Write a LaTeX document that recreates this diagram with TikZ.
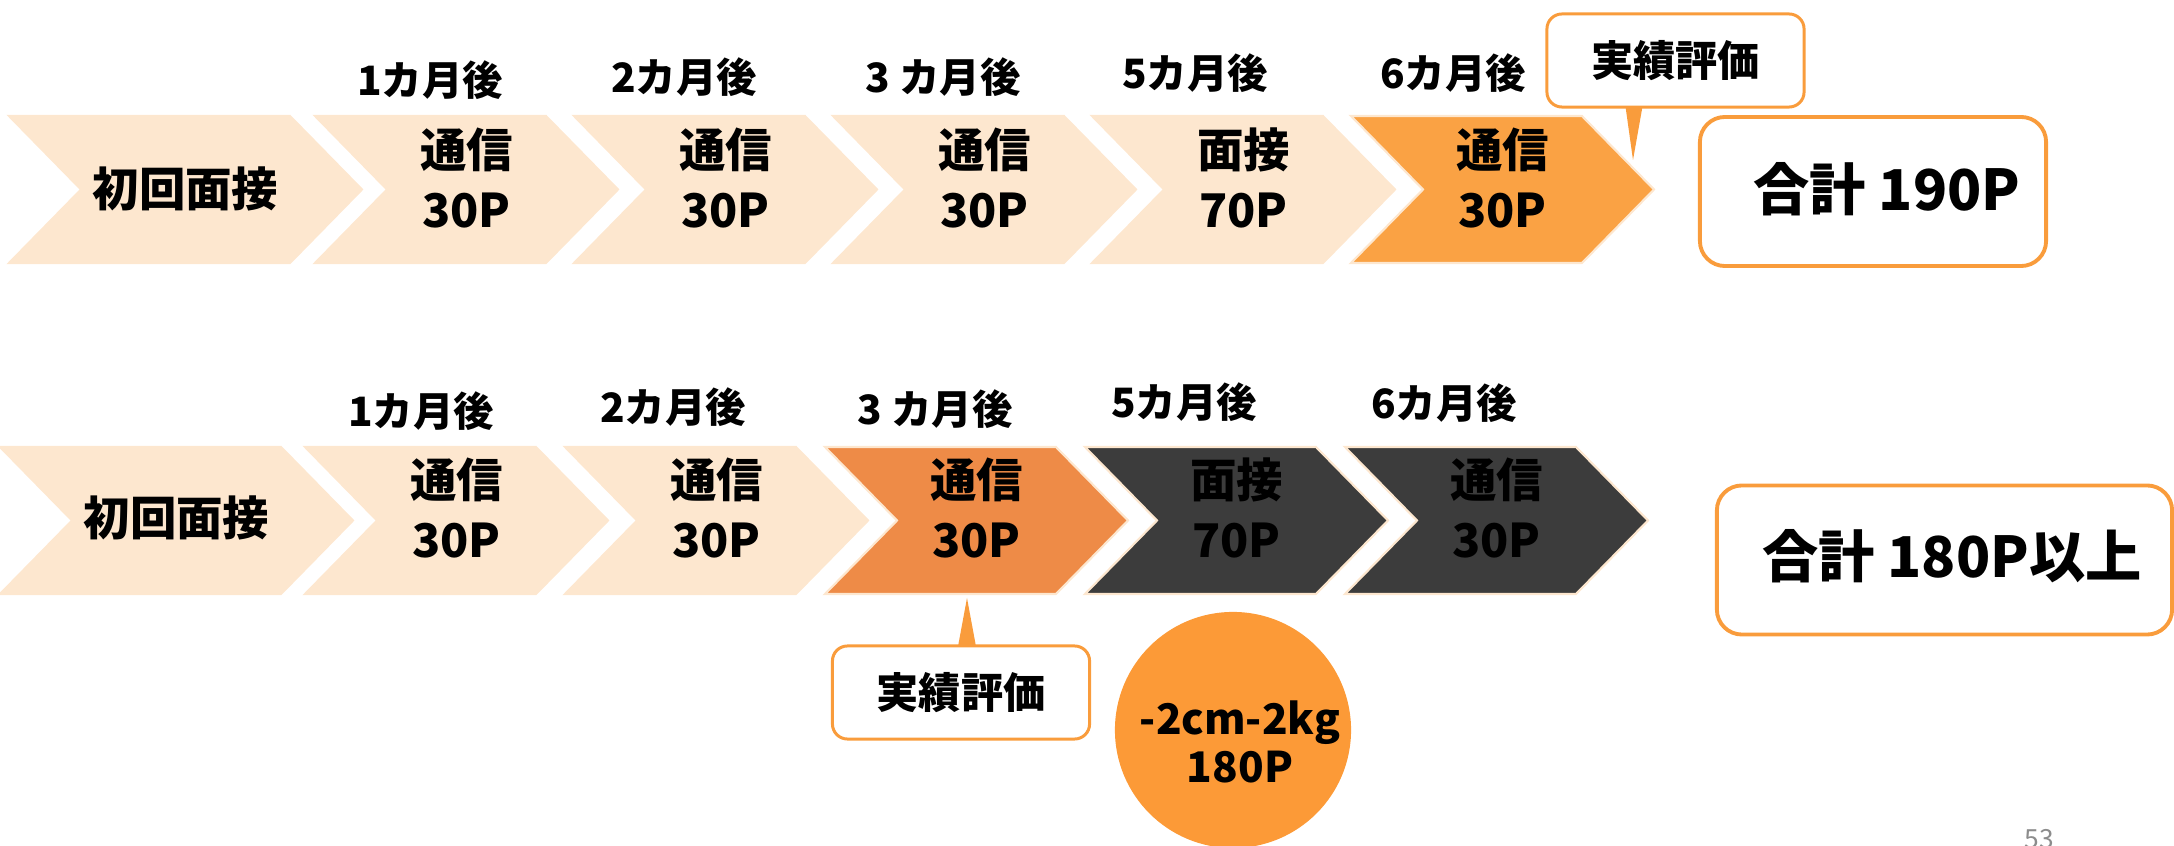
\documentclass[tikz,border=0pt]{standalone}
\usepackage{fontspec}
\setmainfont{Noto Sans CJK JP}
\usetikzlibrary{calc}
\definecolor{peach}{HTML}{FDE7CF}
\definecolor{orA}{HTML}{FAA244}
\definecolor{orB}{HTML}{EE8B47}
\definecolor{dk}{HTML}{3C3C3C}
\definecolor{orC}{HTML}{FC9A37}
\definecolor{orL}{HTML}{F99C3C}
\newcommand{\chevron}[4]{%
  \filldraw[fill=#4, draw=peach, line width=0.6pt] (#1,#2) -- ++(#3,0) -- ++(72,73.5) -- ++(-72,73.5) -- ++(-#3,0) -- ++(72,-73.5) -- cycle;}
\begin{document}
\begin{tikzpicture}[x=0.01cm,y=-0.01cm,
  chevtext/.style={font=\bfseries\fontsize{13.2pt}{17.3pt}\selectfont, align=center, inner sep=0pt, text=black},
  monthlbl/.style={font=\bfseries\fontsize{11.5pt}{14pt}\selectfont, inner sep=0pt},
  callbox/.style={draw=orL, fill=white, line width=0.85pt, rounded corners=0.15cm, minimum width=2.57cm, minimum height=0.93cm, font=\bfseries\fontsize{12pt}{14pt}\selectfont},
  totbox/.style={draw=orL, fill=white, line width=1.1pt, rounded corners=0.25cm, minimum height=1.49cm},
  tottext/.style={font=\bfseries\fontsize{16pt}{19pt}\selectfont, inner sep=0pt},
  circtext/.style={font=\bfseries\fontsize{12pt}{13.7pt}\selectfont, align=center, inner sep=0pt},
  pagenum/.style={font=\fontsize{7.5pt}{9pt}\selectfont, text=black!45, inner sep=0pt}
]
\useasboundingbox (0,0) rectangle (2174,846);

% ---- top row ----
\chevron{9}{116}{281}{peach}
\chevron{315}{116}{231}{peach}
\chevron{574}{116}{231}{peach}
\chevron{833}{116}{231}{peach}
\chevron{1092}{116}{231}{peach}
\chevron{1351}{116}{231}{orA}

\node[chevtext] (a1) at (185.5,189) {初回面接};
\node[chevtext] (a2) at (466.5,178) {通信\\30P};
\node[chevtext] (a3) at (725.5,178) {通信\\30P};
\node[chevtext] (a4) at (984.5,178) {通信\\30P};
\node[chevtext] (a5) at (1243.5,178) {面接\\70P};
\node[chevtext] (a6) at (1502.5,178) {通信\\30P};

\node[monthlbl] (m2) at (430,80) {1カ月後};
\node[monthlbl] (m3) at (684,77) {2カ月後};
\node[monthlbl] (m4) at (943,77) {3 カ月後};
\node[monthlbl] (m5) at (1195,73) {5カ月後};
\node[monthlbl] (m6) at (1453,73) {6カ月後};

\node[callbox] (cb1) at (1675.5,60.5) {実績評価};
\coordinate (p1) at (1633,160);
\fill[orL] ($(cb1.south)+(-50,-2)$) -- ($(cb1.south)+(-33,-2)$) -- (p1) -- cycle;

\node[totbox, minimum width=3.46cm] (t1) at (1873,191.5) {};
\node[tottext] (t1t) at (1887,189) {合計 190P};

% ---- bottom row ----
\chevron{0}{447}{281}{peach}
\chevron{305}{447}{231}{peach}
\chevron{565}{447}{231}{peach}
\chevron{825}{447}{231}{orB}
\chevron{1085}{447}{231}{dk}
\chevron{1345}{447}{231}{dk}

\node[chevtext] (b1) at (176.5,518) {初回面接};
\node[chevtext] (b2) at (456.5,508) {通信\\30P};
\node[chevtext] (b3) at (716.5,508) {通信\\30P};
\node[chevtext] (b4) at (976.5,508) {通信\\30P};
\node[chevtext] (b5) at (1236.5,508) {面接\\70P};
\node[chevtext] (b6) at (1496.5,508) {通信\\30P};

\node[monthlbl] (n2) at (421,411) {1カ月後};
\node[monthlbl] (n3) at (673,407) {2カ月後};
\node[monthlbl] (n4) at (935,409) {3 カ月後};
\node[monthlbl] (n5) at (1184,402) {5カ月後};
\node[monthlbl] (n6) at (1444,403) {6カ月後};

\node[callbox] (cb2) at (961,692.5) {実績評価};
\coordinate (p2) at (967,598);
\fill[orL] ($(cb2.north)+(-3,2)$) -- ($(cb2.north)+(15,2)$) -- (p2) -- cycle;

\node[circle, fill=orC, minimum size=2.36cm, inner sep=0pt] (c1) at (1233,730) {};
\node[circtext] (c1t) at (1240,742) {-2cm-2kg\\180P};

\node[totbox, minimum width=4.55cm] (t2) at (1944.5,560) {};
\node[tottext] (t2t) at (1952,556) {合計 180P以上};

\node[pagenum, anchor=north] (pg) at (2039,829) {53};
\end{tikzpicture}
\end{document}
